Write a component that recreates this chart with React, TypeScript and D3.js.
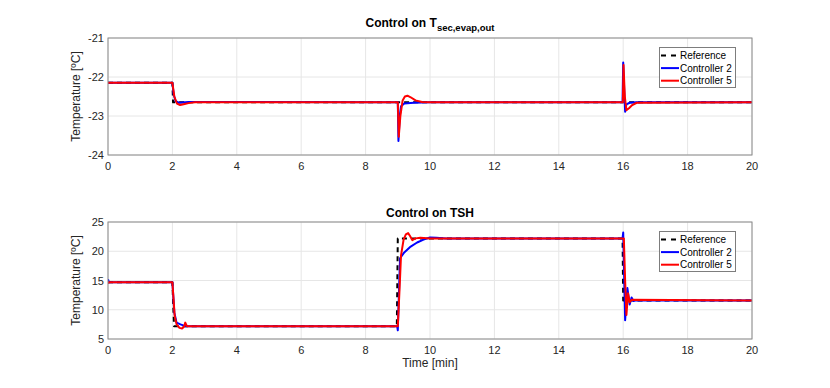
import React from "react";
import * as d3 from "d3";

// time ticks [min]
const timeTicks = [0, 2, 4, 6, 8, 10, 12, 14, 16, 18, 20];
const topTicks = [-24, -23, -22, -21];
const bottomTicks = [5, 10, 15, 20, 25];
const legendNames = ["Reference", "Controller 2", "Controller 5"];

// top panel: T_sec,evap,out  [t, value]
const topReference: [number, number][] = [
  [0, -22.15], [2.0, -22.15], [2.02, -22.65], [20, -22.65],
];
const topController2: [number, number][] = [
  [0, -22.15], [2.0, -22.15], [2.04, -22.45], [2.1, -22.62], [2.2, -22.66], [2.5, -22.64],
  [9.0, -22.65], [9.02, -23.64], [9.06, -23.0], [9.1, -22.75], [9.2, -22.68], [9.5, -22.66],
  [10, -22.65], [15.98, -22.65], [16.0, -21.63], [16.03, -22.3], [16.06, -22.89],
  [16.1, -22.7], [16.2, -22.66], [16.4, -22.65], [20, -22.65],
];
const topController5: [number, number][] = [
  [0, -22.15], [2.0, -22.15], [2.06, -22.5], [2.14, -22.68], [2.24, -22.72], [2.35, -22.7],
  [2.5, -22.67], [2.7, -22.65], [9.0, -22.65], [9.03, -23.53], [9.08, -23.0], [9.15, -22.6],
  [9.22, -22.5], [9.3, -22.48], [9.4, -22.52], [9.55, -22.6], [9.75, -22.64], [10, -22.65],
  [15.99, -22.65], [16.01, -21.69], [16.05, -22.5], [16.1, -22.85], [16.18, -22.8],
  [16.28, -22.72], [16.42, -22.66], [20, -22.65],
];

// bottom panel: TSH  [t, value]
const bottomReference: [number, number][] = [
  [0, 14.7], [2.0, 14.7], [2.05, 7.2], [8.97, 7.2], [9.0, 22.2], [15.98, 22.2], [16.0, 11.6], [20, 11.6],
];
const bottomController2: [number, number][] = [
  [0, 15.2], [0.03, 14.7], [2.0, 14.7], [2.06, 9.5], [2.13, 7.8], [2.25, 7.5], [2.4, 7.2],
  [8.98, 7.2], [9.0, 6.5], [9.07, 18.8], [9.2, 19.8], [9.4, 20.8], [9.6, 21.5], [9.8, 22.0],
  [10.0, 22.35], [10.2, 22.3], [10.5, 22.2], [15.98, 22.2], [16.0, 23.2], [16.06, 8.2],
  [16.13, 13.7], [16.2, 10.9], [16.26, 12.1], [16.32, 11.5], [16.4, 11.6], [20, 11.6],
];
const bottomController5: [number, number][] = [
  [0, 14.5], [0.03, 14.7], [2.0, 14.7], [2.07, 9.0], [2.13, 7.5], [2.22, 6.9], [2.3, 6.8],
  [2.36, 7.1], [2.4, 7.8], [2.45, 7.2], [9.0, 7.2], [9.05, 13.0], [9.1, 19.3], [9.18, 22.0],
  [9.25, 22.9], [9.32, 23.1], [9.38, 22.6], [9.45, 21.9], [9.55, 22.2], [9.7, 22.3], [10, 22.2],
  [16.02, 22.2], [16.06, 15.0], [16.1, 9.1], [16.15, 12.8], [16.2, 11.3], [16.26, 11.7], [20, 11.6],
];

const font = "'Liberation Sans', Arial, Helvetica, sans-serif";
const left = 108;
const right = 752;
const colors = ["#000000", "#0000ff", "#ff0000"];

const x = d3.scaleLinear().domain([0, 20]).range([left, right]);

type PanelProps = {
  top: number;
  bottom: number;
  domain: [number, number];
  ticks: number[];
  series: [number, number][][];
  title: React.ReactNode;
  legendTop: number;
  showXLabel?: boolean;
};

const Panel = ({ top, bottom, domain, ticks, series, title, legendTop, showXLabel }: PanelProps) => {
  const y = d3.scaleLinear().domain(domain).range([bottom, top]);
  const line = d3
    .line<[number, number]>()
    .x((d) => x(d[0]))
    .y((d) => y(d[1]));

  return (
    <g>
      {/* grid */}
      {timeTicks.map((t) => (
        <line key={"gx" + t} x1={x(t)} x2={x(t)} y1={top} y2={bottom} stroke="#e6e6e6" />
      ))}
      {ticks.map((t) => (
        <line key={"gy" + t} x1={left} x2={right} y1={y(t)} y2={y(t)} stroke="#e6e6e6" />
      ))}
      <defs>
        <clipPath id={"clip" + top}>
          <rect x={left} y={top} width={right - left} height={bottom - top} />
        </clipPath>
      </defs>
      <g clipPath={`url(#clip${top})`}>
        {series.map((s, i) => (
          <path
            key={i}
            d={line(s) || ""}
            fill="none"
            stroke={colors[i]}
            strokeWidth={2}
            strokeDasharray={i === 0 ? "5,4" : undefined}
            strokeLinejoin="round"
          />
        ))}
      </g>
      {/* frame */}
      <rect x={left} y={top} width={right - left} height={bottom - top} fill="none" stroke="#8a8a8a" />
      {timeTicks.map((t) => (
        <text key={"tx" + t} x={x(t)} y={bottom + 15} textAnchor="middle" fontSize={11} fill="#262626" fontFamily={font}>
          {t}
        </text>
      ))}
      {ticks.map((t) => (
        <text key={"ty" + t} x={left - 4} y={y(t) + 4} textAnchor="end" fontSize={11} fill="#262626" fontFamily={font}>
          {t}
        </text>
      ))}
      <text
        transform={`translate(80,${(top + bottom) / 2}) rotate(-90)`}
        textAnchor="middle"
        fontSize={12}
        fill="#262626"
        fontFamily={font}
      >
        Temperature [ºC]
      </text>
      {title}
      {showXLabel && (
        <text x={(left + right) / 2} y={367} textAnchor="middle" fontSize={12} fill="#262626" fontFamily={font}>
          Time [min]
        </text>
      )}
      {/* legend */}
      <rect x={659.5} y={legendTop} width={76} height={40} fill="#fff" stroke="#262626" strokeOpacity={0.6} />
      {legendNames.map((name, i) => {
        const ly = legendTop + 8 + i * 12.6;
        return (
          <g key={name}>
            <line
              x1={661}
              x2={679}
              y1={ly}
              y2={ly}
              stroke={colors[i]}
              strokeWidth={2}
              strokeDasharray={i === 0 ? "5,5" : undefined}
            />
            <text x={680} y={ly + 3.6} fontSize={10} fill="#000" fontFamily={font}>
              {name}
            </text>
          </g>
        );
      })}
    </g>
  );
};

export default function App() {
  return (
    <svg width={830} height={388} style={{ position: "absolute", left: 0, top: 0, background: "#fff" }}>
      <Panel
        top={38}
        bottom={155}
        domain={[-24, -21]}
        ticks={topTicks}
        series={[topReference, topController2, topController5]}
        legendTop={47.5}
        title={
          <text x={430} y={27} textAnchor="middle" fontSize={12} fontWeight="bold" fill="#000" fontFamily={font}>
            Control on T
            <tspan fontSize={9.5} dy={4}>
              sec,evap,out
            </tspan>
          </text>
        }
      />
      <Panel
        top={222}
        bottom={339}
        domain={[5, 25]}
        ticks={bottomTicks}
        series={[bottomReference, bottomController2, bottomController5]}
        legendTop={231.5}
        showXLabel
        title={
          <text x={430} y={216.5} textAnchor="middle" fontSize={12} fontWeight="bold" fill="#000" fontFamily={font}>
            Control on TSH
          </text>
        }
      />
    </svg>
  );
}
